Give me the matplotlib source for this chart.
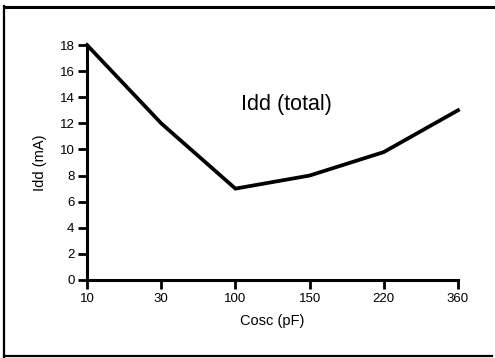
import matplotlib
matplotlib.use("Agg")
import matplotlib.pyplot as plt
from matplotlib.lines import Line2D

categories = ["10", "30", "100", "150", "220", "360"]
idd_total = [18, 12, 7, 8, 9.8, 13]
yticks = [0, 2, 4, 6, 8, 10, 12, 14, 16, 18]

plt.rcParams['font.family'] = ['Liberation Sans', 'DejaVu Sans']

W, H = 495, 358
fig = plt.figure(figsize=(W / 100, H / 100), dpi=100)
ax = fig.add_axes([87 / W, 1 - 280 / H, (458 - 87) / W, (280 - 45) / H])

x = list(range(len(categories)))
ax.plot(x, idd_total, color='black', lw=2.7, solid_joinstyle='miter', clip_on=False)
ax.set_xlim(0, len(categories) - 1)
ax.set_ylim(0, 18)
ax.set_xticks(x)
ax.set_xticklabels(categories)
ax.set_yticks(yticks)
for s in ['top', 'right']:
    ax.spines[s].set_visible(False)
for s in ['left', 'bottom']:
    ax.spines[s].set_linewidth(2.2)
ax.tick_params(axis='both', direction='out', length=6.5, width=2.0, labelsize=9.5, pad=2.5)
for lab in ax.get_xticklabels() + ax.get_yticklabels():
    lab.set_fontweight('medium')

ax.set_xlabel("Cosc (pF)", fontsize=10.5, labelpad=7)
ax.set_ylabel("Idd (mA)", fontsize=10.5, labelpad=9)

ax.text(286 / W, 1 - 105 / H, "Idd (total)", transform=fig.transFigure,
        fontsize=15.5, ha='center', va='center')

# outer frame (left, top, bottom)
lw = 1.6
fig.add_artist(Line2D([3.5 / W, 3.5 / W], [1 - 5.5 / H, 1 - 356.5 / H], color='black', lw=lw, transform=fig.transFigure))
fig.add_artist(Line2D([3.5 / W, 494 / W], [1 - 6.5 / H, 1 - 6.5 / H], color='black', lw=2.2, transform=fig.transFigure))
fig.add_artist(Line2D([3.5 / W, 492 / W], [1 - 356 / H, 1 - 356 / H], color='black', lw=lw, transform=fig.transFigure))

fig.savefig("out.png", dpi=100)
